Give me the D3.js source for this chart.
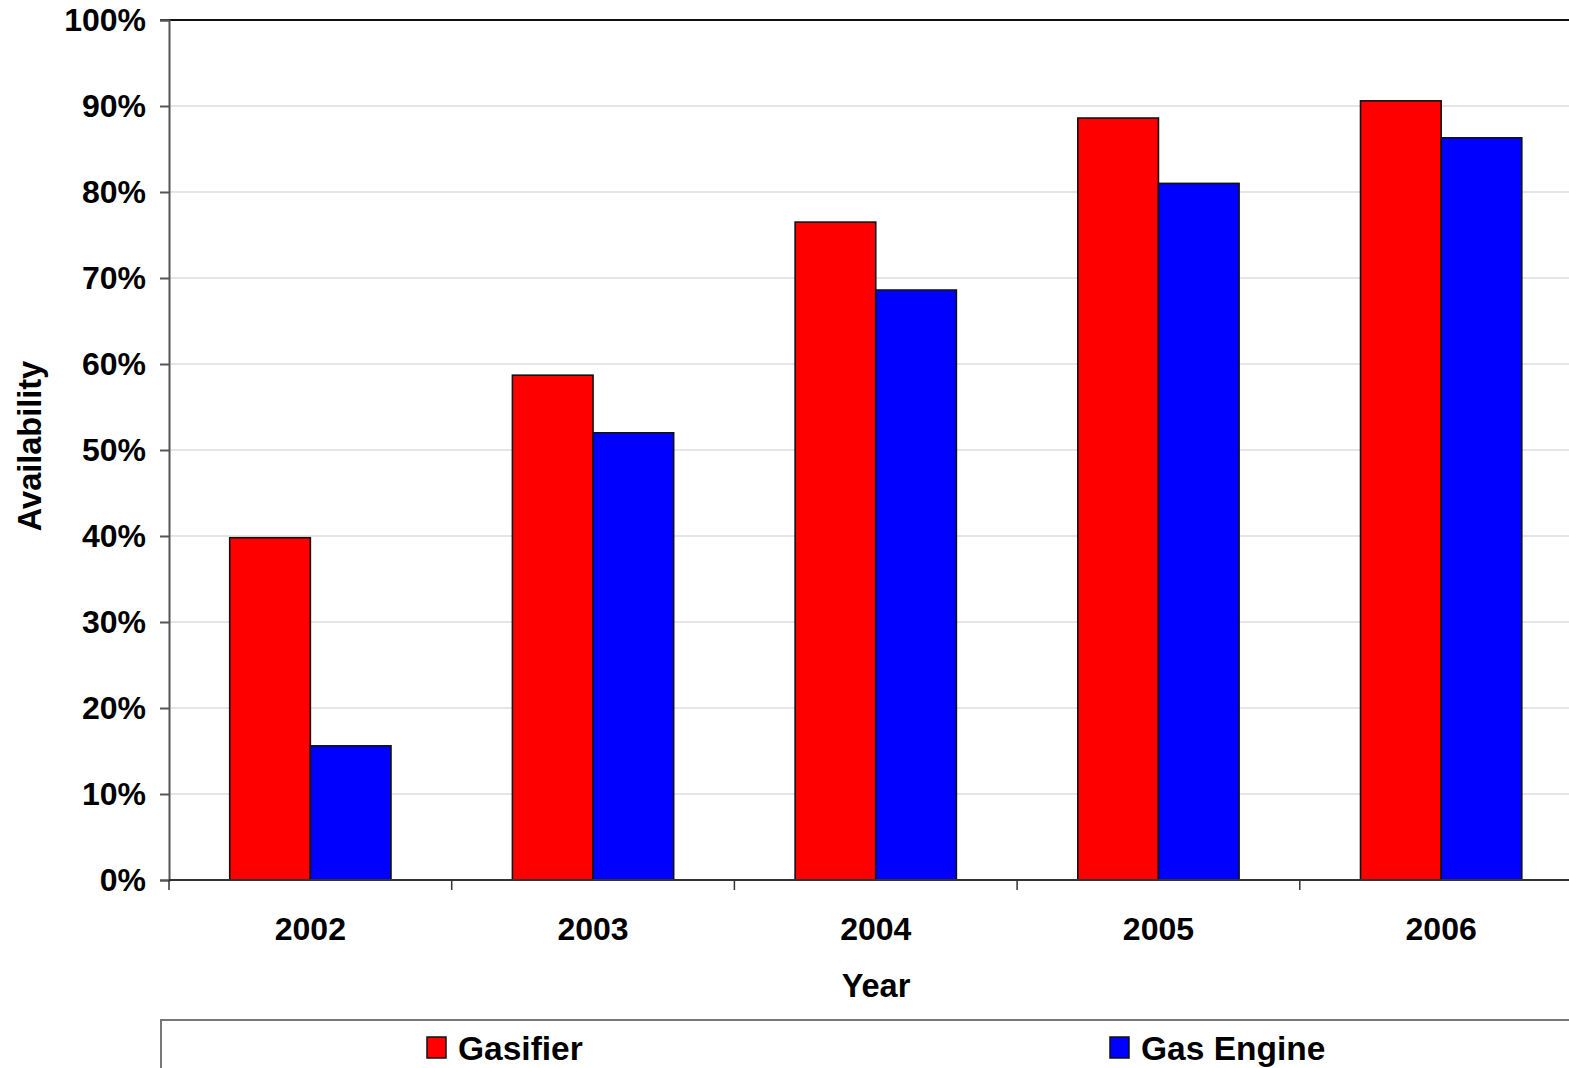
<!DOCTYPE html>
<html>
<head>
<meta charset="utf-8">
<script src="https://cdn.jsdelivr.net/npm/d3@7"></script>
<style>
  html, body { margin: 0; padding: 0; background: #fff; overflow: hidden; }
  svg { display: block; font-family: "Liberation Sans", Arial, sans-serif; font-weight: bold; }
</style>
</head>
<body>
<svg id="chart" width="1569" height="1068"></svg>
<script>
// Availability by year for the gasifier and the gas engine
const years = ["2002", "2003", "2004", "2005", "2006"];
const seriesNames = ["Gasifier", "Gas Engine"];
const seriesColors = ["#ff0000", "#0000ff"];
const gasifier = [0.398, 0.587, 0.765, 0.886, 0.906];
const gasEngine = [0.156, 0.520, 0.686, 0.810, 0.863];
const yTicks = [0, 0.1, 0.2, 0.3, 0.4, 0.5, 0.6, 0.7, 0.8, 0.9, 1.0];

const seriesValues = [gasifier, gasEngine];
const rows = years.map((yr, i) => ({
  year: yr,
  values: seriesNames.map((name, s) => ({ name, color: seriesColors[s], value: seriesValues[s][i] }))
}));

const svg = d3.select("#chart");
const plotLeft = 169, plotTop = 20, plotBottom = 880;
const step = 282.7;

const x = d3.scaleBand().domain(years).range([plotLeft, plotLeft + step * years.length]).padding(0);
const xs = d3.scaleBand().domain(seriesNames).range([0, x.bandwidth()]).paddingInner(0).paddingOuter(0.753);
const y = d3.scaleLinear().domain([0, 1]).range([plotBottom, plotTop]);

// horizontal gridlines
svg.append("g")
  .selectAll("line")
  .data(yTicks.filter(t => t > 0 && t < 1))
  .join("line")
  .attr("x1", plotLeft).attr("x2", 1569)
  .attr("y1", d => y(d)).attr("y2", d => y(d))
  .attr("stroke", "#cccccc").attr("stroke-width", 1.2);

// top frame line
svg.append("line")
  .attr("x1", plotLeft - 9).attr("x2", 1569)
  .attr("y1", y(1)).attr("y2", y(1))
  .attr("stroke", "#111").attr("stroke-width", 2);

// bars
const groups = svg.append("g")
  .selectAll("g")
  .data(rows)
  .join("g")
  .attr("transform", d => `translate(${x(d.year)},0)`);

groups.selectAll("rect")
  .data(d => d.values)
  .join("rect")
  .attr("x", d => xs(d.name))
  .attr("y", d => y(d.value))
  .attr("width", xs.bandwidth())
  .attr("height", d => y(0) - y(d.value))
  .attr("fill", d => d.color)
  .attr("stroke", "#111")
  .attr("stroke-width", 1.6);

// y axis
const yAxis = d3.axisLeft(y)
  .tickValues(yTicks)
  .tickFormat(d3.format(".0%"))
  .tickSize(9)
  .tickPadding(14);
const gy = svg.append("g").attr("transform", `translate(${plotLeft},0)`).call(yAxis);
gy.select(".domain").attr("stroke", "#555").attr("stroke-width", 2);
gy.selectAll(".tick line").attr("stroke", "#555").attr("stroke-width", 2);
gy.selectAll(".tick text")
  .attr("font-family", "Liberation Sans, Arial, sans-serif")
  .attr("font-weight", "bold")
  .attr("font-size", 32)
  .attr("dy", "0.34em")
  .attr("fill", "#000");

// x axis: ticks sit on the category boundaries
const boundaries = years.map(yr => x(yr));
svg.append("line")
  .attr("x1", plotLeft).attr("x2", 1569)
  .attr("y1", plotBottom).attr("y2", plotBottom)
  .attr("stroke", "#333").attr("stroke-width", 2);
svg.append("g")
  .selectAll("line")
  .data(boundaries)
  .join("line")
  .attr("x1", d => d).attr("x2", d => d)
  .attr("y1", plotBottom).attr("y2", plotBottom + 10)
  .attr("stroke", "#333").attr("stroke-width", 1.5);

svg.append("g")
  .selectAll("text")
  .data(years)
  .join("text")
  .attr("x", d => x(d) + x.bandwidth() / 2)
  .attr("y", 940)
  .attr("text-anchor", "middle")
  .attr("font-size", 32)
  .attr("fill", "#000")
  .text(d => d);

// axis titles
svg.append("text")
  .attr("x", 876).attr("y", 997)
  .attr("text-anchor", "middle")
  .attr("font-size", 32.5)
  .text("Year");

svg.append("text")
  .attr("transform", "translate(41,446) rotate(-90)")
  .attr("text-anchor", "middle")
  .attr("font-size", 32.5)
  .text("Availability");

// legend
svg.append("rect")
  .attr("x", 161).attr("y", 1020)
  .attr("width", 1500).attr("height", 100)
  .attr("fill", "#fff")
  .attr("stroke", "#777").attr("stroke-width", 2);

const legendX = [427, 1110];
const legend = svg.append("g")
  .selectAll("g")
  .data(seriesNames)
  .join("g")
  .attr("transform", (d, i) => `translate(${legendX[i]},1037)`);
legend.append("rect")
  .attr("width", 19).attr("height", 21)
  .attr("fill", (d, i) => seriesColors[i])
  .attr("stroke", "#111").attr("stroke-width", 1.5);
legend.append("text")
  .attr("x", 31).attr("y", 23)
  .attr("font-size", 33.5)
  .text(d => d);
</script>
</body>
</html>
